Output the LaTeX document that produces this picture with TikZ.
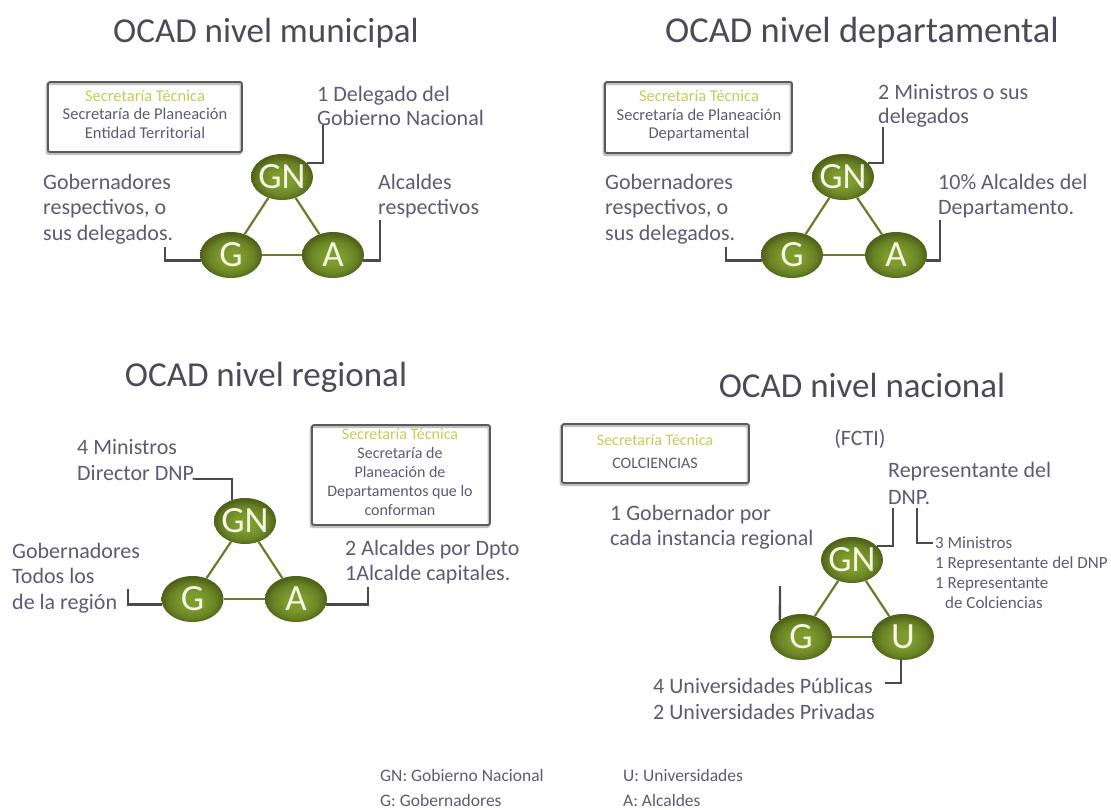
\documentclass[tikz,border=0pt]{standalone}
\usepackage{fontspec}
\setmainfont{Carlito}
\usetikzlibrary{shapes.geometric}
\definecolor{txt}{HTML}{5F5A72}
\definecolor{ttl}{HTML}{4A4A58}
\definecolor{secg}{HTML}{C3CD55}
\definecolor{leadc}{HTML}{4A4A4A}
\definecolor{edgec}{HTML}{6A7C2C}
\definecolor{boxc}{HTML}{5A5A5A}
\definecolor{shadc}{HTML}{C0C0C0}
\definecolor{olin}{HTML}{7E9C2D}
\definecolor{olmid}{HTML}{6A8425}
\definecolor{olout}{HTML}{4F6219}
\definecolor{memtxt}{HTML}{F6F6E4}
\pgfdeclareradialshading{olivesh}{\pgfpoint{0bp}{-3bp}}{color(0bp)=(olin); color(8bp)=(olin); color(18bp)=(olmid); color(25bp)=(olout); color(50bp)=(olout)}
\tikzset{
  ttlnode/.style={font=\fontsize{35}{40}\selectfont, text=ttl, anchor=base, inner sep=0pt},
  secbox/.style={draw=boxc, line width=1.8pt, rounded corners=2pt, inner sep=0pt,
     preaction={draw=shadc, line width=2.6pt, transform canvas={xshift=-1.2pt, yshift=-1.8pt}}},
  boxtxt/.style={font=\fontsize{16.5}{18.5}\selectfont, text=txt, align=center, inner sep=0pt},
  mem/.style={ellipse, minimum width=62pt, minimum height=46pt, inner xsep=-14pt, inner ysep=0pt,
     shading=olivesh, font=\fontsize{37}{37}\selectfont, text=memtxt},
  edgeline/.style={draw=edgec, line width=2.2pt},
  leader/.style={draw=leadc, line width=2.4pt},
  bodyA/.style={font=\fontsize{22}{24}\selectfont, text=txt, align=left, inner sep=0pt, anchor=west},
  bodyB/.style={font=\fontsize{22}{25.5}\selectfont, text=txt, align=left, inner sep=0pt, anchor=west},
  bodyC/.style={font=\fontsize{22}{27}\selectfont, text=txt, align=left, inner sep=0pt, anchor=west},
  smalltxt/.style={font=\fontsize{17}{20}\selectfont, text=txt, align=left, inner sep=0pt, anchor=west},
  legtxt/.style={font=\fontsize{17.5}{25}\selectfont, text=txt, align=left, inner sep=0pt, anchor=west},
}
\begin{document}
\begin{tikzpicture}[x=1pt,y=-1pt]
\useasboundingbox (0,0) rectangle (1111,809);

% ---------- Municipal ----------
\node[ttlnode] (t1) at (266,42) {OCAD nivel municipal};
\node[secbox, minimum width=194pt, minimum height=70pt] (b1) at (145,117) {};
\node[boxtxt] (b1t) at (145,114) {\textcolor{secg}{Secretaría Técnica}\\Secretaría de Planeación\\Entidad Territorial};
\node[mem] (gn1) at (282,177) {GN};
\node[mem] (g1) at (231,255) {G};
\node[mem] (a1) at (333,255) {A};
\draw[edgeline] (gn1) -- (g1);
\draw[edgeline] (gn1) -- (a1);
\draw[edgeline] (g1) -- (a1);
\coordinate (l1a) at (323,125);
\draw[leader] (gn1.30) -| (l1a);
\node[bodyA] (x1a) at (317,106) {1 Delegado del\\Gobierno Nacional};
\coordinate (l1b) at (165,247);
\draw[leader] (g1.190) -| (l1b);
\node[bodyB] (x1b) at (43,209) {Gobernadores\\respectivos, o\\sus delegados.};
\coordinate (l1c) at (380,220);
\draw[leader] (a1.350) -| (l1c);
\node[bodyB] (x1c) at (378,196) {Alcaldes\\respectivos};

% ---------- Departamental ----------
\node[ttlnode, font=\fontsize{36.5}{40}\selectfont] (t2) at (862,42) {OCAD nivel departamental};
\node[secbox, minimum width=187pt, minimum height=71pt] (b2) at (698.5,117.5) {};
\node[boxtxt] (b2t) at (699,116) {\textcolor{secg}{Secretaría Técnica}\\Secretaría de Planeación\\Departamental};
\node[mem] (gn2) at (843,177) {GN};
\node[mem] (g2) at (792,255) {G};
\node[mem] (a2) at (896,255) {A};
\draw[edgeline] (gn2) -- (g2);
\draw[edgeline] (gn2) -- (a2);
\draw[edgeline] (g2) -- (a2);
\coordinate (l2a) at (883,127);
\draw[leader] (gn2.30) -| (l2a);
\node[bodyA] (x2a) at (878,106) {2 Ministros o sus\\delegados};
\coordinate (l2b) at (726,247);
\draw[leader] (g2.190) -| (l2b);
\node[bodyB] (x2b) at (605,209) {Gobernadores\\respectivos, o\\sus delegados.};
\coordinate (l2c) at (940,220);
\draw[leader] (a2.350) -| (l2c);
\node[bodyB] (x2c) at (938,196) {10\% Alcaldes del\\Departamento.};

% ---------- Regional ----------
\node[ttlnode] (t3) at (266,386) {OCAD nivel regional};
\node[secbox, minimum width=178pt, minimum height=100pt] (b3) at (401,475) {};
\node[boxtxt, font=\fontsize{16}{19}\selectfont] (b3t) at (400,472) {\textcolor{secg}{Secretaría Técnica}\\Secretaría de\\Planeación de\\Departamentos que lo\\conforman};
\node[mem] (gn3) at (245,521) {GN};
\node[mem] (g3) at (192.5,599) {G};
\node[mem] (a3) at (296,599) {A};
\draw[edgeline] (gn3) -- (g3);
\draw[edgeline] (gn3) -- (a3);
\draw[edgeline] (g3) -- (a3);
\coordinate (l3a) at (195,479);
\draw[leader] (gn3.122) |- (l3a);
\node[bodyB] (x3a) at (77,460) {4 Ministros\\Director DNP.};
\coordinate (l3b) at (128,589);
\draw[leader] (g3.190) -| (l3b);
\node[bodyB] (x3b) at (12,578) {Gobernadores\\Todos los\\de la región};
\coordinate (l3c) at (368,587);
\draw[leader] (a3.350) -| (l3c);
\node[bodyB] (x3c) at (345,562) {2 Alcaldes por Dpto\\1Alcalde capitales.};

% ---------- Nacional ----------
\node[ttlnode] (t4) at (862,397) {OCAD nivel nacional};
\node[secbox, minimum width=187pt, minimum height=59pt] (b4) at (655.5,453.5) {};
\node[boxtxt, font=\fontsize{16}{23}\selectfont] (b4t) at (655,451.5) {\textcolor{secg}{Secretaría Técnica}\\COLCIENCIAS};
\node[font=\fontsize{22}{24}\selectfont, text=txt, inner sep=0pt] (fcti) at (860,439) {(FCTI)};
\node[bodyC] (x4a) at (888,483) {Representante del\\DNP.};
\node[mem] (gn4) at (852,560) {GN};
\node[mem] (g4) at (801,637) {G};
\node[mem] (u4) at (903,637) {U};
\draw[edgeline] (gn4) -- (g4);
\draw[edgeline] (gn4) -- (u4);
\draw[edgeline] (g4) -- (u4);
\coordinate (l4a) at (893,508);
\draw[leader] (gn4.30) -| (l4a);
\coordinate (l4b) at (917,508);
\coordinate (l4c) at (933,543);
\draw[leader] (l4b) |- (l4c);
\node[smalltxt] (x4b) at (935,572.5) {3 Ministros\\1 Representante del DNP\\1 Representante\\\hspace*{10pt}de Colciencias};
\node[bodyB] (x4c) at (610,527) {1 Gobernador por\\cada instancia regional};
\coordinate (l4d) at (780,586);
\draw[leader] (l4d) -- (g4.141);
\coordinate (l4e) at (885,683);
\draw[leader] (u4.265) |- (l4e);
\node[bodyB] (x4d) at (653,699) {4 Universidades Públicas\\2 Universidades Privadas};

% ---------- Legend ----------
\node[legtxt] (lg1) at (380,787.5) {GN: Gobierno Nacional\\G: Gobernadores};
\node[legtxt] (lg2) at (623,787.5) {U: Universidades\\A: Alcaldes};
\end{tikzpicture}
\end{document}
